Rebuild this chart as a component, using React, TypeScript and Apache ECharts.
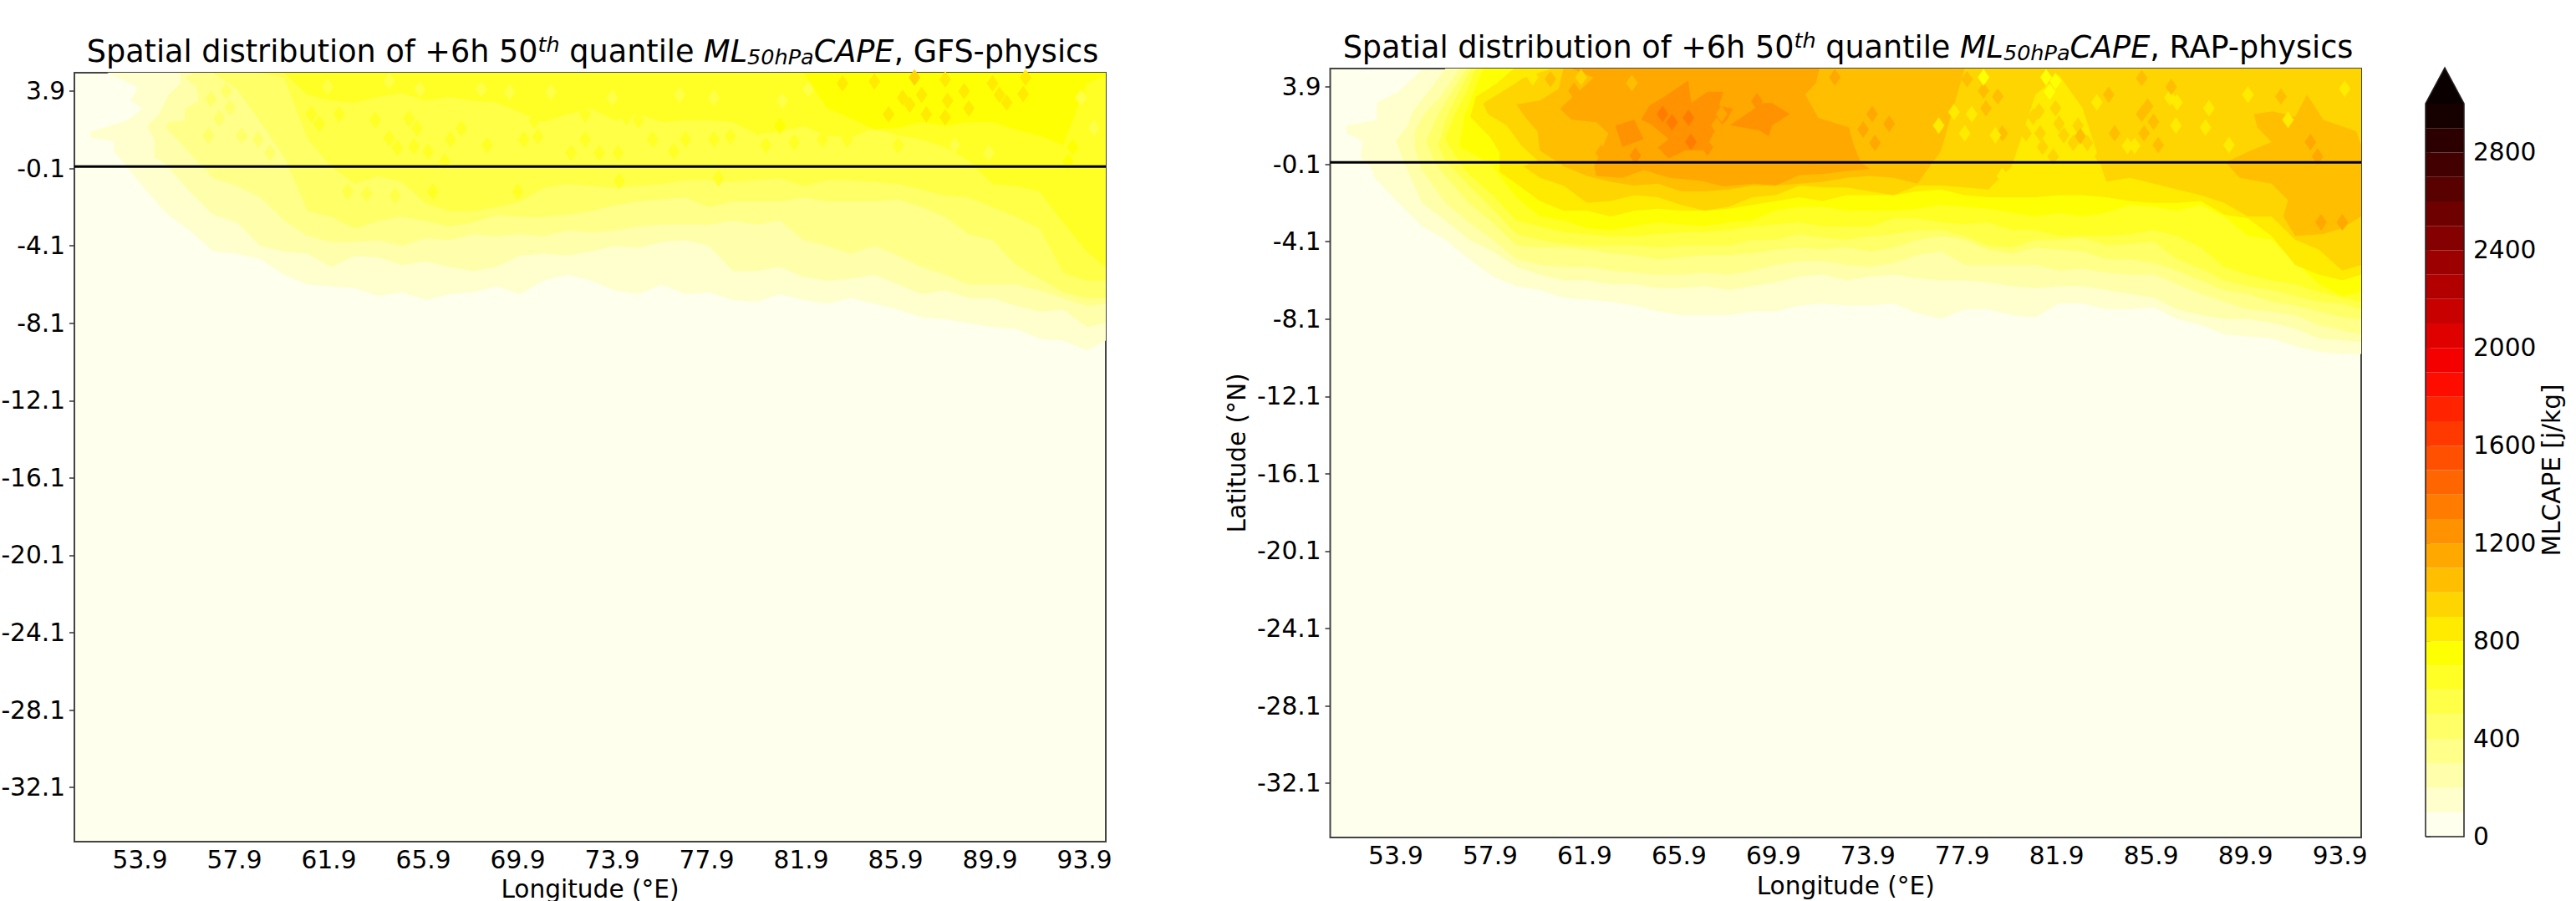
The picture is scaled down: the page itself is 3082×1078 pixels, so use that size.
import React, { useEffect, useRef } from "react";
import * as echarts from "echarts";

const FONT = "DejaVu Sans";
const LON_MIN = 51.12, LON_MAX = 94.8, LAT_MIN = -34.9, TOP = 4.85;

const LON_TICKS = [53.9, 57.9, 61.9, 65.9, 69.9, 73.9, 77.9, 81.9, 85.9, 89.9, 93.9];
const LAT_TICKS = [3.9, -0.1, -4.1, -8.1, -12.1, -16.1, -20.1, -24.1, -28.1, -32.1];
const CBAR_TICKS = [0, 400, 800, 1200, 1600, 2000, 2400, 2800];
const CBAR_LEVELS = [0,100,200,300,400,500,600,700,800,900,1000,1100,1200,1300,1400,1500,1600,1700,1800,1900,2000,2100,2200,2300,2400,2500,2600,2700,2800,2900];
const BAND_COLORS = ["#ffffee","#ffffcd","#ffffab","#ffff8a","#ffff68","#ffff47","#ffff25","#ffff04","#ffeb00","#ffd500","#ffbf00","#ffa800","#ff9200","#ff7c00","#ff6500","#ff4f00","#ff3900","#ff2300","#ff0c00","#f50000","#df0000","#c80000","#b20000","#9c0000","#850000","#6f0000","#590000","#420000","#2c0000","#160000"];
const OVER_COLOR = "#0b0000";
const band = (v: number) => BAND_COLORS[Math.floor(v / 100)];

// Longitudes at which each contour's southern edge is read
const LON_GRID = [51.12,52,53,54,55,56,57,58,59,60,61,62,63,64,65,66,67,68,69,70,71,72,73,74,75,76,77,78,79,80,81,82,83,84,85,86,87,88,89,90,91,92,93,94,94.8];

// GFS-physics: latitude of the southern edge of the region where CAPE >= level
const G100 = [TOP,TOP,.5,-1,-2.4,-3.3,-4.4,-4.5,-4.8,-5.6,-6.1,-6.2,-6.3,-6.7,-6.5,-6.9,-6.6,-6.5,-6.2,-6.6,-5.9,-5.6,-5.9,-6.4,-6.6,-6.1,-6.6,-6.5,-6.9,-7,-6.6,-6.9,-7.1,-6.8,-7.1,-7.4,-7.8,-7.9,-8.1,-8.3,-8.4,-8.9,-9,-9.5,-9];
const G200 = [TOP,TOP,TOP,TOP,.1,-1.3,-2.5,-2.9,-4.1,-4.4,-4.5,-5.2,-4.6,-4.7,-5.1,-4.9,-5.2,-5.4,-5.2,-4.6,-4.5,-4.6,-4.4,-4.1,-4.2,-3.9,-3.8,-4.1,-5.4,-5.4,-5.2,-5.7,-5.9,-5.8,-5.6,-6.1,-6.6,-6.4,-6.8,-6.8,-7.2,-7.5,-7.4,-8.3,-8.1];
const G300 = [TOP,TOP,TOP,TOP,TOP,.7,-.6,-1,-1.6,-2.8,-3.6,-3.9,-3.9,-3.8,-4.1,-3.7,-3.8,-3.5,-3.6,-3.5,-3.6,-3.3,-3.4,-3.3,-3.1,-3,-3,-3,-2.8,-3,-2.8,-3.8,-4.1,-4.5,-4.1,-4.6,-5.2,-5.6,-6.1,-6.1,-6.1,-6.4,-6.8,-7.2,-7.1];
const G400 = [TOP,TOP,TOP,TOP,TOP,TOP,TOP,4,2.3,.5,-2.3,-2.6,-3.2,-2.8,-2.6,-2.8,-3.1,-2.9,-2.5,-2.6,-2.6,-2.5,-2.3,-2,-1.8,-1.7,-1.6,-2.1,-1.8,-1.8,-1.8,-1.6,-1.8,-1.8,-1.8,-1.7,-2.1,-2.6,-3.5,-3.8,-5.1,-5.8,-6.5,-6.8,-6.8];
const G500 = [TOP,TOP,TOP,TOP,TOP,TOP,TOP,TOP,TOP,4.6,1.4,0,-.9,-.5,-.8,-1.9,-2.3,-2.3,-2.1,-1.8,-1.1,-.9,-1,-1.1,-1,-.9,-.7,-.7,-.8,-.7,-.6,-1,-.7,-.7,-.8,-.9,-1.2,-1.5,-1.6,-2.1,-2.6,-3.2,-5.5,-5.9,-5.9];
const G600 = [TOP,TOP,TOP,TOP,TOP,TOP,TOP,TOP,TOP,TOP,3.7,3.4,3.3,3.6,3.8,3.4,3.6,3.4,3.3,2.8,2.3,2.7,3,2.4,2.7,2.3,2.4,2.4,2.3,1.7,1.8,2.1,1.6,1.5,2,1.6,1.4,1,.3,-.9,-1,-1.3,-2.9,-4.4,-5.2];
const G700 = [TOP,TOP,TOP,TOP,TOP,TOP,TOP,TOP,TOP,TOP,TOP,TOP,TOP,TOP,TOP,TOP,TOP,TOP,TOP,TOP,TOP,TOP,TOP,TOP,TOP,TOP,TOP,TOP,TOP,TOP,TOP,TOP,3,2.5,1.9,2,2.3,2.1,2.3,2.3,1.9,1.6,1.1,4.3,4.7];

const G100_WEST = [[52.8,.7],[52.8,1.3],[51.8,1.5],[51.8,1.8],[53.4,2.4],[54,3],[53.5,3.4],[53.8,4.1],[52.5,4.85]];
const G200_WEST = [[54.5,.5],[54.5,1.4],[54.2,2.1],[54.7,2.7],[55.1,3.7],[55.6,4.3],[55.6,4.85]];
const G300_WEST = [[55.7,1.1],[55,2],[55.1,2.3],[55.8,2.4],[55.8,3],[56.4,3.4],[56.3,4.1],[55.8,4.6],[56.2,4.85]];

// [lon, lat, CAPE] small patches of another band
const G_PATCHES = [
  [56.9,3.5,450],[57.55,3.9,450],[57.7,3.05,450],[57.25,2.5,450],[58.2,1.6,450],[56.8,1.6,450],[59.6,1.85,450],[58.9,1.4,450],[59.85,1.25,450],[60.6,.7,450],[59.4,.7,450],
  [61.15,2.7,650],[61.5,2.2,650],[62.33,2.7,650],[63.86,2.41,650],[65.28,2.48,650],[64.45,1.47,650],[65.63,1.98,650],[65.5,1.04,650],[66.1,.76,650],[67.05,1.4,650],[68.6,1.1,650],[67.5,1.98,650],[66.8,.25,650],[64.8,.97,650],
  [61.85,4.13,550],[64.45,4.42,550],[65.75,4,550],[68.35,4,550],[62.7,-1.3,550],[63.5,-1.4,550],[64.7,-1.5,550],[66.3,-1.3,650],
  [69.55,3.85,550],[71.3,3.85,550],[70.6,2.4,650],[70.15,1.4,650],[70.75,1.55,650],[72.75,2.7,650],[72.75,1.4,650],[72.15,.7,650],[73.35,.7,650],[74.15,.7,650],[74.5,2.55,650],[75,2.4,650],[75.6,1.4,650],[76.5,.8,650],[77,1.4,650],[78.2,1.4,650],[78.9,1.55,650],[80.4,1.1,650],[80.05,2,650],[81,2.1,750],[81.6,1.25,650],[82.8,1.4,650],[83.85,1.4,650],[86,1.1,650],
  [82.2,4,550],[81.1,3.4,550],[78.2,3.55,550],[76.75,3.7,550],[73.9,3.55,550],[74.2,-.75,650],[78.4,-.6,650],[69.9,-1.3,650],
  [83.65,4.3,850],[85,4.4,850],[86.7,4.6,950],[87,3.7,850],[86.2,3.55,850],[86.5,3.2,850],[85.6,2.7,850],[87.2,2.7,850],[88,4.5,850],[88.1,3.4,850],[88,2.55,850],[88.8,3.9,850],[89,3,850],[90,4.3,850],[90.3,3.7,850],[91.3,3.75,850],[91.4,4.6,850],[90.6,3.3,850],
  [93.2,.25,750],[93.4,1,750],[93.75,3.55,550],[94.3,2,550],[86.7,.7,550],[88.4,1.1,550],[89.85,.7,550],
];

// RAP-physics
const R100 = [TOP,TOP,-.8,-2.1,-3.3,-4,-5,-5.9,-6.4,-6.6,-7,-7.1,-7.2,-7.4,-7.7,-7.9,-7.9,-7.9,-7.7,-7.7,-7.4,-7.3,-7.4,-7.4,-7.3,-7.8,-8.1,-7.6,-7.6,-7.9,-8,-7.3,-7.3,-7.6,-7.6,-7.5,-8.1,-8.4,-8.9,-9,-9.1,-9.5,-9.8,-9.9,-9.9];
const R200 = [TOP,TOP,TOP,TOP,-2.1,-3,-4,-4.6,-5.4,-5.8,-6.1,-6.1,-6.3,-6.3,-6.5,-6.5,-6.4,-6.6,-6.4,-6.2,-5.9,-5.8,-6.1,-5.9,-5.8,-6,-6.1,-6.1,-6.2,-6.4,-6.5,-6.4,-6.4,-6.6,-6.8,-7,-7.6,-7.9,-8.1,-8.1,-8.3,-8.6,-9.1,-9.2,-9.3];
const R300 = [TOP,TOP,TOP,TOP,-.4,-2.1,-3.1,-4,-5,-5.3,-5.4,-5.4,-5.6,-5.7,-5.8,-5.8,-5.7,-5.8,-5.6,-5.3,-5.1,-5.1,-5.3,-5.4,-5.2,-4.8,-4.6,-5.3,-5.3,-5.3,-5.3,-5.6,-5.5,-5.7,-5.8,-5.8,-6.3,-6.8,-7.2,-7.6,-7.7,-7.9,-8.4,-8.7,-8.9];
const R400 = [TOP,TOP,TOP,TOP,TOP,-.7,-2.1,-3.1,-4.3,-4.4,-4.4,-4.5,-4.7,-4.8,-5,-4.9,-4.8,-4.8,-4.7,-4.5,-4.4,-4.5,-4.4,-4.6,-4.4,-4,-3.8,-4,-4.5,-4.7,-4.4,-4.5,-4.6,-5,-5,-5.2,-5.6,-6.1,-6.6,-6.8,-7.2,-7.4,-7.7,-8,-8.1];
const R500 = [TOP,TOP,TOP,TOP,TOP,.1,-1.2,-2.4,-3.7,-4,-4.2,-4.3,-4.3,-4.3,-4.4,-4.3,-4.3,-4.3,-4,-4,-3.7,-3.9,-4,-3.8,-3.7,-3.5,-3.5,-3.8,-4.3,-4.4,-4,-4,-3.9,-4.3,-4.2,-4.1,-5,-5.5,-6.1,-6.4,-6.6,-6.9,-7.2,-7.3,-7.6];
const R600 = [TOP,TOP,TOP,TOP,TOP,TOP,-.6,-1.7,-3,-3.3,-3.6,-3.7,-3.8,-3.8,-3.7,-3.6,-3.6,-3.5,-3.3,-3.2,-3.1,-3.3,-3.3,-3.3,-2.9,-2.9,-3.1,-3.2,-3.1,-3.5,-3.5,-3.8,-3.8,-3.8,-3.7,-3.5,-3.8,-4.4,-5.4,-5.8,-6.1,-6.3,-6.7,-7,-7.2];
const R700 = [TOP,TOP,TOP,TOP,TOP,TOP,TOP,-.2,-1.8,-2.8,-3,-3.4,-3.5,-3.3,-3.1,-3.2,-3.3,-3.1,-3,-2.5,-2.3,-2.3,-2.5,-2.5,-2.5,-2.4,-2.2,-2.3,-2.4,-2.6,-2.8,-2.6,-2.8,-2.6,-2.2,-2.3,-2.5,-2.2,-2.8,-3.8,-4,-5.1,-6.3,-6.9,-6.7];
const R800 = [TOP,TOP,TOP,TOP,TOP,TOP,TOP,TOP,-1.1,-2,-2.5,-2.5,-2.8,-2.5,-2.4,-2.5,-2.5,-2.4,-2.2,-2,-1.8,-2,-1.7,-1.7,-1.7,-1.5,-1.4,-1.7,-1.8,-1.8,-1.8,-1.7,-1.7,-1.8,-2,-2.1,-2.1,-2,-2.7,-2.9,-3.8,-5.3,-5.8,-6.1,-5.8];
const R900 = [TOP,TOP,TOP,TOP,TOP,TOP,TOP,TOP,TOP,-.8,-1.2,-2.1,-2,-1.7,-1.8,-2.2,-2.5,-2.3,-1.8,-1.7,-1.2,-1.3,-1.3,-1.5,-1.7,-1.2,-1.2,-1.3,-1.4,-.2,3.5,4.5,2.8,-1,-.8,-1.1,-1.4,-1.7,-2.1,-2.8,-2.8,-4,-4.5,-5.6,-5.3];
const R1000 = [TOP,TOP,TOP,TOP,TOP,TOP,TOP,TOP,TOP,TOP,-.2,-.7,-1,-1.2,-1.1,-1.5,-1.5,-1.4,-1.2,-1.2,-1.1,-1,-.8,-.7,-.8,-1.1,.6,TOP,TOP,TOP,TOP,TOP,TOP,TOP,TOP,TOP,TOP,TOP,TOP,TOP,TOP,TOP,TOP,TOP,TOP];

const R100_WEST = [[52.9,-.4],[52.4,.3],[52.5,1.1],[51.8,1.5],[51.8,1.9],[53.1,2.2],[53.1,3.1],[54,3.65],[55,4.8]];
const R200_WEST = [[54.25,0],[53.9,1.1],[54.4,1.9],[54.6,2.6],[55.3,3.7],[56,4.85]];
const R300_WEST = [[54.7,.8],[54.7,1.6],[55.1,2.5],[55.8,3.4],[56.6,4.85]];
const R400_WEST = [[55.55,0],[55.2,1.1],[55.7,2.5],[56.3,3.7],[56.9,4.85]];
const R500_WEST = [[55.7,.9],[56.1,2.5],[56.6,3.7],[57.1,4.85]];
const R600_WEST = [[56.6,0],[56,1.2],[56.4,2.5],[56.9,3.65],[57.3,4.85]];
const R700_WEST = [[57.3,.35],[56.6,.8],[56.8,2.35],[57.2,3.65],[57.6,4.85]];
const R800_WEST = [[58.3,-.5],[58.3,.5],[57.9,1.3],[57.05,2.35],[57.3,3.4],[58.2,4.1],[58.9,4.85]];
const R900_WEST = [[59.3,-.2],[59.9,.1],[59.2,.9],[58.6,1.9],[57.8,2.5],[57.6,3.05],[58.4,3.65],[59.3,4.35],[60.5,4.85]];
const R1000_WEST = [[60.9,-.1],[60,.6],[59.9,1.6],[59.4,2.3],[59,3],[60,3.2],[60.8,3.8],[61,4.85]];

const R1000_EAST = [[90.25,2.5],[91.07,2.64],[92,2.35],[92.5,3.5],[93.2,2.2],[94.6,1.6],[94.8,.9],[94.8,-2.8],[94,-3.4],[93.2,-3.7],[92,-3.8],[91.5,-2.8],[91.7,-1.95],[91,-1.1],[89.65,-.8],[89.06,0],[90.1,.6],[91,1.05],[90.4,1.8]];
const R1100_MAIN = [[61.34,4.85],[62.28,4.37],[60.86,2.78],[61.34,2.2],[62.4,2.07],[62.9,1.5],[62.5,.3],[62.3,-.2],[62.4,-.7],[63.5,-.8],[64.4,-.4],[65.5,-.8],[66.8,-.95],[67.8,-1.24],[69.1,-1.1],[70,-1.2],[71,-.66],[72,-.6],[73,-.45],[74,-.35],[73.6,0],[73.3,.9],[73.1,1.8],[71.8,2.3],[71.25,3.5],[71.7,4.1],[71.85,4.85]];
const R1200_A = [[64.64,2.93],[65.23,3.36],[66.29,4.22],[66.41,3.07],[67.12,3.65],[67.77,3.65],[67.59,2.93],[68.18,2.78],[67.94,2.21],[67.35,1.49],[67,.63],[66.17,.63],[65.46,.2],[65,.77],[65.46,1.2],[64.76,1.92],[64.3,2.21]];
const R1200_B = [[68.06,1.92],[69.45,3.07],[69.83,3.07],[70.6,2.5],[69.83,1.9],[69.7,1.35],[69.3,1.65]];
const R1200_C = [[63.2,1.9],[64,2.2],[64.4,1.2],[63.5,.8]];

const R_PATCHES = [
  [61.45,3.7,1150],[62.6,.5,1150],[63.9,4.1,1050],[60.45,4.3,1050],[61.75,4.4,950],[59.7,4.4,850],[64.05,.35,1250],
  [65.6,2.07,1350],[65.2,2.5,1350],[66.4,1.06,1350],[66.3,2.3,1350],[67.1,.77,1250],[67.7,2.5,1150],[67.5,1.9,1150],[69.2,3.15,1250],
  [74.08,2.5,1150],[74.8,2,1150],[74.2,1,1150],[73.7,1.7,1150],[72.5,4.4,1150],[76.2,.8,1050],[76.7,.5,1050],
  [76.8,4.1,1050],[78.1,4.3,1050],[78.8,3.7,1050],[79.4,3.4,1050],[78.9,2.8,1050],[79.6,1.5,1050],[77.4,2.9,1050],[76.7,1.35,1050],
  [76.9,1.9,850],[78,1.5,850],[79.3,1.4,850],[77.55,2.6,850],[78.3,2.5,850],[79.6,-.7,850],
  [81.85,2.8,950],[80.9,2.35,950],[82.8,1.9,950],[83.2,3.7,950],[82.8,3.7,950],[82.6,1,950],[83.2,1,950],[83.75,.3,950],[81.15,2.65,950],[81.75,.3,950],
  [81.2,1.5,950],[82.2,1.4,950],[82,2,950],[81.3,.8,950],[80.6,1.5,950],
  [81.85,4.2,750],[81.6,3.65,750],[81.45,4.4,750],[78.8,4.4,750],
  [84.9,.85,850],[83.6,3.1,850],[86.7,3.35,850],[86.95,1.9,850],[85.5,2.5,1050],[85.6,1.5,1050],[84.1,3.5,1050],[82.9,1.35,1050],
  [88.2,1.8,850],[88.35,2.8,850],[87,3.1,850],[85.2,.85,850],[90,3.5,850],[89.2,.9,850],[94.1,3.8,850],[91.7,2.2,850],
  [92.95,.3,1150],[92.65,1.05,1150],[94,-3.1,1150],[93.1,-3.1,1150],
  [85.5,4.35,1050],[86.75,3.9,1050],[91.4,3.4,1050],[86,2.1,1050],[85.75,2.9,1050],[84.35,1.5,1050],[86.2,.9,1050],
];

type Pt = number[];
function edgeRegion(level: number, south: number[], west?: Pt[]) {
  let first = south.findIndex((v) => v < TOP);
  if (!west) first = Math.max(0, first - 1);
  const pts: Pt[] = west ? [...west] : [];
  pts.push([LON_MAX, TOP]);
  for (let i = south.length - 1; i >= first; i--) pts.push([LON_GRID[i], south[i]]);
  return { level, pts };
}

const GFS_REGIONS = [
  edgeRegion(100, G100, G100_WEST), edgeRegion(200, G200, G200_WEST), edgeRegion(300, G300, G300_WEST),
  edgeRegion(400, G400), edgeRegion(500, G500), edgeRegion(600, G600), edgeRegion(700, G700),
];
const RAP_REGIONS = [
  edgeRegion(100, R100, R100_WEST), edgeRegion(200, R200, R200_WEST), edgeRegion(300, R300, R300_WEST),
  edgeRegion(400, R400, R400_WEST), edgeRegion(500, R500, R500_WEST), edgeRegion(600, R600, R600_WEST),
  edgeRegion(700, R700, R700_WEST), edgeRegion(800, R800, R800_WEST), edgeRegion(900, R900, R900_WEST),
  edgeRegion(1000, R1000, R1000_WEST), { level: 1000, pts: R1000_EAST }, { level: 1100, pts: R1100_MAIN },
  { level: 1200, pts: R1200_A }, { level: 1200, pts: R1200_B }, { level: 1200, pts: R1200_C },
];

function contourSeries(regions: { level: number; pts: Pt[] }[], idx: number) {
  return {
    type: "custom", xAxisIndex: idx, yAxisIndex: idx, clip: true, z: 2, silent: true,
    data: regions.map((r) => [r.pts[0][0], r.pts[0][1], r.level]),
    renderItem: (p: any, api: any) => {
      const r = regions[p.dataIndex];
      return { type: "polygon", shape: { points: r.pts.map((q) => api.coord(q)) }, style: { fill: band(r.level) } };
    },
  };
}
function patchSeries(patches: number[][], idx: number) {
  return {
    type: "scatter", xAxisIndex: idx, yAxisIndex: idx, clip: true, z: 3, silent: true,
    symbol: "diamond", symbolSize: [14, 20],
    data: patches,
    itemStyle: { opacity: 1, color: (p: any) => band(p.value[2]) },
  };
}
function zeroLine(idx: number) {
  return {
    type: "line", xAxisIndex: idx, yAxisIndex: idx, z: 5, silent: true, symbol: "none",
    data: [[LON_MIN, 0], [LON_MAX, 0]], lineStyle: { color: "#000", width: 3 },
  };
}
const tickText = { color: "#000", fontFamily: FONT, fontSize: 29.6, fontWeight: "normal" };
const xAxis = (idx: number, nameGap: number) => ({
  type: "value", gridIndex: idx, min: LON_MIN, max: LON_MAX,
  name: "Longitude (°E)", nameLocation: "middle", nameGap,
  nameTextStyle: tickText,
  axisLine: { show: false }, splitLine: { show: false },
  axisTick: { show: true, length: 6, customValues: LON_TICKS, lineStyle: { color: "#333", width: 1.5 } },
  axisLabel: { ...tickText, margin: 7, customValues: LON_TICKS, formatter: (v: number) => v.toFixed(1), hideOverlap: false },
});
const yAxis = (idx: number, name?: string) => ({
  type: "value", gridIndex: idx, min: LAT_MIN, max: TOP,
  name: name || "", nameLocation: "middle", nameGap: 97, nameRotate: 90, nameTextStyle: tickText,
  axisLine: { show: false }, splitLine: { show: false },
  axisTick: { show: true, length: 6, customValues: LAT_TICKS, lineStyle: { color: "#333", width: 1.5 } },
  axisLabel: { ...tickText, margin: 11, customValues: LAT_TICKS, formatter: (v: number) => v.toFixed(1), hideOverlap: false },
});
const titleRich = {
  n: { fontFamily: FONT, fontSize: 36.6, fontWeight: "normal", color: "#000" },
  s: { fontFamily: FONT, fontSize: 25.5, fontWeight: "normal", fontStyle: "italic", color: "#000", padding: [0, 0, 17, 0] },
  i: { fontFamily: FONT, fontSize: 36.6, fontWeight: "normal", fontStyle: "italic", color: "#000" },
  b: { fontFamily: FONT, fontSize: 25.5, fontWeight: "normal", fontStyle: "italic", color: "#000", padding: [12, 0, 0, 0] },
};
const titleText = (suffix: string) => `{n|Spatial distribution of +6h 50}{s|th}{n| quantile }{i|ML}{b|50hPa}{i|CAPE}{n|, ${suffix}}`;

export default function App() {
  const ref = useRef<HTMLDivElement>(null);
  useEffect(() => {
    document.body.style.margin = "0";
    const chart = echarts.init(ref.current!, undefined, { renderer: "svg" });
    chart.setOption({
      animation: false,
      backgroundColor: "#fff",
      title: [
        { text: titleText("GFS-physics"), left: 704, top: 35, textAlign: "center", textStyle: { fontWeight: "normal", rich: titleRich } },
        { text: titleText("RAP-physics"), left: 2206, top: 30, textAlign: "center", textStyle: { fontWeight: "normal", rich: titleRich } },
      ],
      grid: [
        { left: 89, top: 87, width: 1234, height: 920, show: true, backgroundColor: "#ffffee", borderColor: "#444", borderWidth: 2, outerBoundsMode: "none", containLabel: false },
        { left: 1591.5, top: 82, width: 1233.5, height: 920, show: true, backgroundColor: "#ffffee", borderColor: "#444", borderWidth: 2, outerBoundsMode: "none", containLabel: false },
        { left: 2902, top: 124, width: 46, height: 877, outerBoundsMode: "none", containLabel: false },
      ],
      xAxis: [
        xAxis(0, 38), xAxis(1, 43),
        { type: "value", gridIndex: 2, min: 0, max: 1, show: false },
      ],
      yAxis: [
        yAxis(0), yAxis(1, "Latitude (°N)"),
        {
          type: "value", gridIndex: 2, min: 0, max: 3000, position: "right",
          name: "MLCAPE [j/kg]", nameLocation: "middle", nameGap: 89, nameRotate: 90, nameTextStyle: tickText,
          axisLine: { show: false }, splitLine: { show: false },
          axisTick: { show: true, length: 6, customValues: CBAR_TICKS, lineStyle: { color: "#333", width: 1.5 } },
          axisLabel: { ...tickText, margin: 11, customValues: CBAR_TICKS, formatter: (v: number) => String(v), hideOverlap: false },
        },
      ],
      series: [
        contourSeries(GFS_REGIONS, 0), patchSeries(G_PATCHES, 0), zeroLine(0),
        contourSeries(RAP_REGIONS, 1), patchSeries(R_PATCHES, 1), zeroLine(1),
        {
          type: "custom", xAxisIndex: 2, yAxisIndex: 2, z: 2, silent: true, clip: false,
          data: CBAR_LEVELS.map((v) => [0, v]),
          renderItem: (p: any, api: any) => {
            const lo = CBAR_LEVELS[p.dataIndex];
            const a = api.coord([0, lo]);
            const b = api.coord([1, lo + 100]);
            return { type: "rect", shape: { x: a[0], y: b[1], width: b[0] - a[0], height: a[1] - b[1] }, style: { fill: BAND_COLORS[p.dataIndex] } };
          },
        },
        {
          type: "custom", xAxisIndex: 2, yAxisIndex: 2, z: 3, silent: true, clip: false,
          data: [[0, 3000]],
          renderItem: (p: any, api: any) => {
            const bl = api.coord([0, 0]), br = api.coord([1, 0]);
            const tl = api.coord([0, 3000]), tr = api.coord([1, 3000]);
            const tip = api.coord([0.5, 3147]);
            return {
              type: "group",
              children: [
                { type: "polygon", shape: { points: [tl, tip, tr] }, style: { fill: OVER_COLOR } },
                { type: "polyline", shape: { points: [bl, tl, tip, tr, br, bl] }, style: { fill: "none", stroke: "#222", lineWidth: 1.5 } },
              ],
            };
          },
        },
      ],
    });
    return () => chart.dispose();
  }, []);
  return <div ref={ref} style={{ position: "fixed", left: 0, top: 0, width: 3082, height: 1078 }} />;
}
